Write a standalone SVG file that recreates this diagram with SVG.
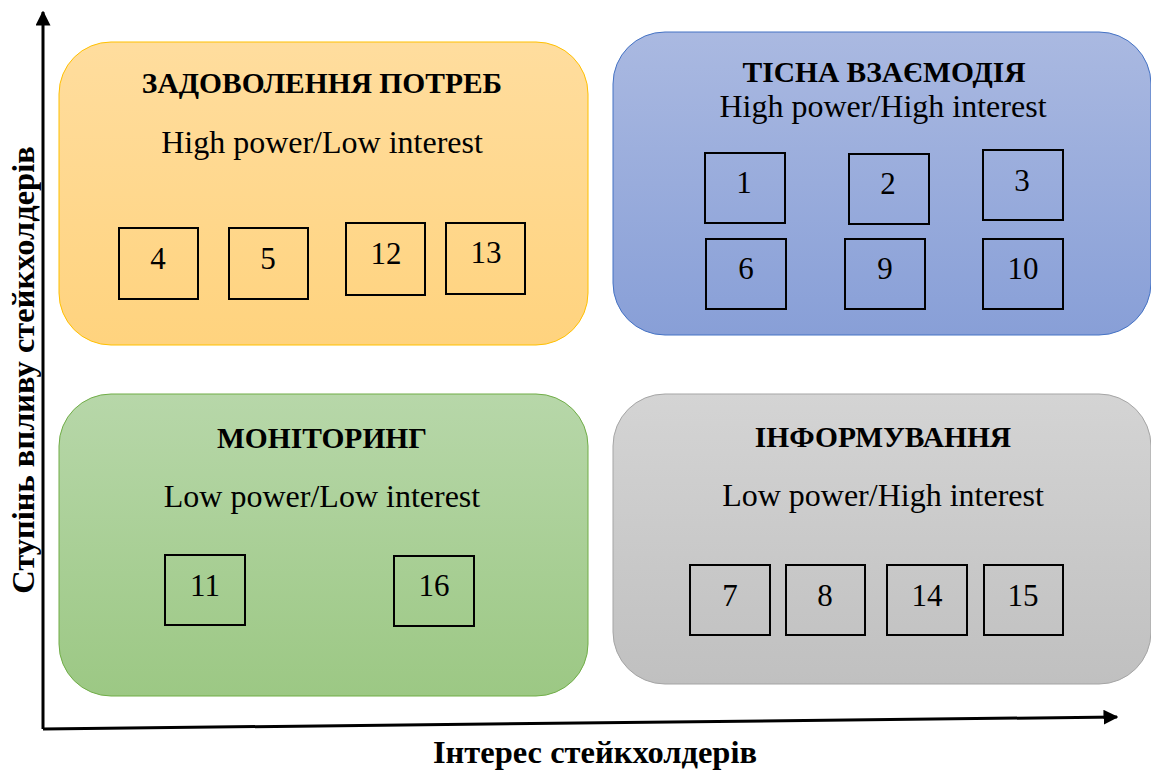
<svg xmlns="http://www.w3.org/2000/svg" width="1151" height="772" viewBox="0 0 1151 772">
<defs>
<linearGradient id="gY" x1="0" y1="0" x2="0" y2="1"><stop offset="0" stop-color="#FFDD9E"/><stop offset="1" stop-color="#FFD37E"/></linearGradient>
<linearGradient id="gB" x1="0" y1="0" x2="0" y2="1"><stop offset="0" stop-color="#AAB9E1"/><stop offset="1" stop-color="#889FD7"/></linearGradient>
<linearGradient id="gG" x1="0" y1="0" x2="0" y2="1"><stop offset="0" stop-color="#B7D7A9"/><stop offset="1" stop-color="#9CC884"/></linearGradient>
<linearGradient id="gR" x1="0" y1="0" x2="0" y2="1"><stop offset="0" stop-color="#D4D4D4"/><stop offset="1" stop-color="#C0C0C0"/></linearGradient>
<marker id="arr" viewBox="0 0 10 10" refX="9" refY="5" markerWidth="5" markerHeight="5" orient="auto" markerUnits="strokeWidth"><path d="M0,0 L10,5 L0,10 z" fill="#000"/></marker>
</defs>
<style>
text{font-family:'Liberation Serif','Tinos','Times New Roman','DejaVu Serif',serif;fill:#000;text-anchor:middle}
.h{font-size:29.5px;font-weight:bold}
.s{font-size:32px}
.n{font-size:31px}
.b{fill:none;stroke:#000;stroke-width:2}
.ax{font-size:32.5px;font-weight:bold}
</style>
<rect width="1151" height="772" fill="#fff"/>
<g id="connectors">
<line x1="43" y1="729" x2="43" y2="12" stroke="#000" stroke-width="3" marker-end="url(#arr)"/>
<line x1="43" y1="729" x2="1117" y2="717" stroke="#000" stroke-width="3" marker-end="url(#arr)"/>
</g>
<g id="q-satisfy">
<rect x="59" y="42" width="529" height="303" rx="52" fill="url(#gY)" stroke="#FFC000" stroke-width="1"/>
<text class="h" x="322" y="93">ЗАДОВОЛЕННЯ ПОТРЕБ</text>
<text class="s" x="322" y="153">High power/Low interest</text>
</g>
<g id="n4"><rect class="b" x="119" y="228" width="79" height="71"/><text class="n" x="158" y="269">4</text></g>
<g id="n5"><rect class="b" x="229" y="228" width="79" height="71"/><text class="n" x="268" y="269">5</text></g>
<g id="n12"><rect class="b" x="346" y="223" width="79" height="72"/><text class="n" x="386" y="264">12</text></g>
<g id="n13"><rect class="b" x="446" y="223" width="79" height="71"/><text class="n" x="486" y="263">13</text></g>
<g id="q-close">
<rect x="613" y="32" width="538" height="303" rx="52" fill="url(#gB)" stroke="#4472C4" stroke-width="1"/>
<text class="h" x="884" y="82">ТІСНА ВЗАЄМОДІЯ</text>
<text class="s" x="883" y="117">High power/High interest</text>
</g>
<g id="n1"><rect class="b" x="705" y="153" width="80" height="70"/><text class="n" x="744" y="193">1</text></g>
<g id="n2"><rect class="b" x="849" y="154" width="80" height="70"/><text class="n" x="888" y="194">2</text></g>
<g id="n3"><rect class="b" x="983" y="150" width="80" height="70"/><text class="n" x="1022" y="191">3</text></g>
<g id="n6"><rect class="b" x="706" y="239" width="80" height="70"/><text class="n" x="746" y="279">6</text></g>
<g id="n9"><rect class="b" x="845" y="239" width="80" height="70"/><text class="n" x="885" y="279">9</text></g>
<g id="n10"><rect class="b" x="983" y="239" width="80" height="70"/><text class="n" x="1023" y="279">10</text></g>
<g id="q-monitor">
<rect x="59" y="394" width="529" height="302" rx="52" fill="url(#gG)" stroke="#70AD47" stroke-width="1"/>
<text class="h" x="322" y="448">МОНІТОРИНГ</text>
<text class="s" x="322" y="507">Low power/Low interest</text>
</g>
<g id="n11"><rect class="b" x="165" y="555" width="80" height="70"/><text class="n" x="205" y="596">11</text></g>
<g id="n16"><rect class="b" x="394" y="556" width="80" height="70"/><text class="n" x="434" y="596">16</text></g>
<g id="q-inform">
<rect x="613" y="394" width="538" height="290" rx="52" fill="url(#gR)" stroke="#A5A5A5" stroke-width="1"/>
<text class="h" x="883" y="447">ІНФОРМУВАННЯ</text>
<text class="s" x="883" y="506">Low power/High interest</text>
</g>
<g id="n7"><rect class="b" x="690" y="565" width="80" height="70"/><text class="n" x="730" y="606">7</text></g>
<g id="n8"><rect class="b" x="786" y="565" width="79" height="70"/><text class="n" x="825" y="606">8</text></g>
<g id="n14"><rect class="b" x="887" y="565" width="80" height="70"/><text class="n" x="927" y="606">14</text></g>
<g id="n15"><rect class="b" x="984" y="565" width="79" height="70"/><text class="n" x="1023" y="606">15</text></g>
<text class="ax" transform="translate(34,370) rotate(-90)">Ступінь впливу стейкхолдерів</text>
<text class="ax" x="595" y="763">Інтерес стейкхолдерів</text>
</svg>
